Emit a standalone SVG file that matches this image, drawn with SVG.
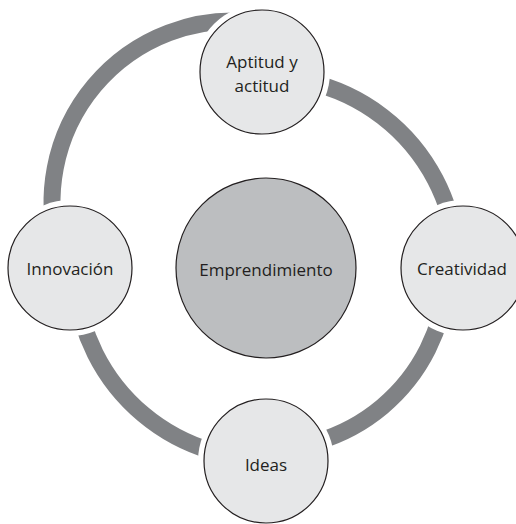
<svg xmlns="http://www.w3.org/2000/svg" width="516" height="524" viewBox="0 0 516 524">
<style>
.arc{fill:none;stroke:#808285;stroke-width:17;stroke-linecap:butt}
.halo{fill:#ffffff;stroke:none}
.node{fill:#e6e7e8;stroke:#231f20;stroke-width:1.2}
.hub{fill:#bcbec0;stroke:#231f20;stroke-width:1.2}
.lbl{font-family:"Open Sans","Liberation Sans",sans-serif;font-size:17px;fill:#231f20;text-anchor:middle}
</style>
<rect width="516" height="524" fill="#ffffff"/>
<g id="connectors">
<path class="arc" d="M 58.2 248.8 A 181 181 0 0 1 248.8 21.7"/>
<path class="arc" d="M 232.8 79.9 A 191 191 0 0 1 456.3 251.4"/>
<path class="arc" d="M 446.3 283.8 A 181 181 0 0 1 250.2 448.3"/>
<path class="arc" d="M 282.6 458.3 A 191 191 0 0 1 75.7 284.6"/>
</g>
<g id="halos">
<circle class="halo" cx="262" cy="72" r="68"/>
<circle class="halo" cx="463" cy="268" r="68"/>
<circle class="halo" cx="266" cy="461" r="68"/>
<circle class="halo" cx="70" cy="268" r="68"/>
</g>
<g id="node-emprendimiento">
<circle class="hub" cx="266" cy="268" r="90"/>
<text class="lbl" x="266" y="276">Emprendimiento</text>
</g>
<g id="node-aptitud">
<circle class="node" cx="262" cy="72" r="62"/>
<text class="lbl" x="262" y="68">Aptitud y</text>
<text class="lbl" x="262" y="92">actitud</text>
</g>
<g id="node-creatividad">
<circle class="node" cx="463" cy="268" r="62"/>
<text class="lbl" x="462" y="275">Creatividad</text>
</g>
<g id="node-ideas">
<circle class="node" cx="266" cy="461" r="62"/>
<text class="lbl" x="266" y="471">Ideas</text>
</g>
<g id="node-innovacion">
<circle class="node" cx="70" cy="268" r="62"/>
<text class="lbl" x="70" y="275">Innovación</text>
</g>
</svg>
